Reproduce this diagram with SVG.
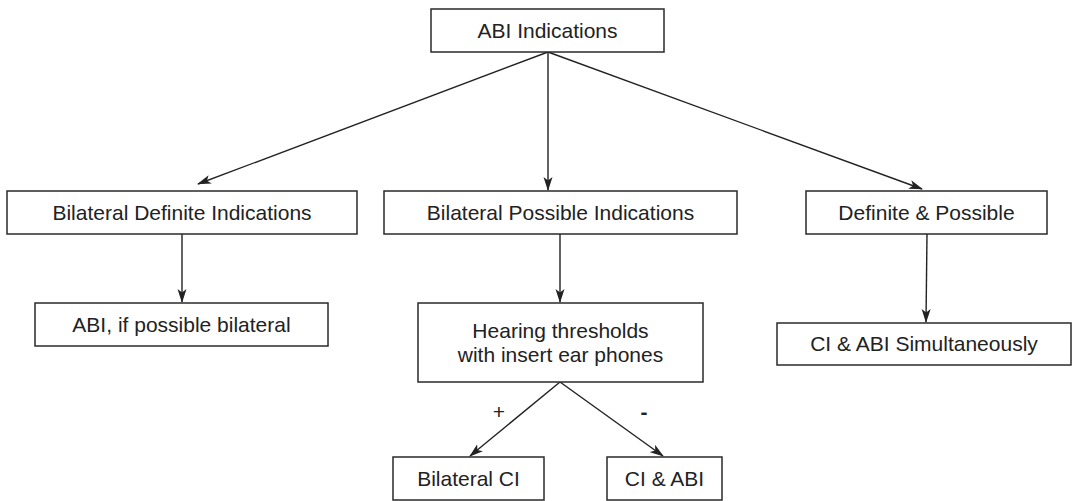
<svg xmlns="http://www.w3.org/2000/svg" width="1073" height="501" viewBox="0 0 1073 501">
<style>
.box{fill:#fff;stroke:#2a2a2a;stroke-width:1.5}
.t{font-family:"Liberation Sans",Arial,sans-serif;font-size:21px;fill:#222;text-anchor:middle}
.c{stroke:#222;stroke-width:1.4;fill:none;marker-end:url(#ah)}
</style>
<defs>
<marker id="ah" markerWidth="14" markerHeight="10" refX="13" refY="5" orient="auto" markerUnits="userSpaceOnUse">
<path d="M0,0.5 L14,5 L0,9.5 L3.5,5 z" fill="#222"/>
</marker>
</defs>
<rect width="1073" height="501" fill="#fff"/>
<g id="connectors">
<line class="c" x1="548" y1="52" x2="198" y2="184"/>
<line class="c" x1="548" y1="52" x2="548" y2="190"/>
<line class="c" x1="548" y1="52" x2="922" y2="189"/>
<line class="c" x1="182" y1="234" x2="182" y2="302"/>
<line class="c" x1="560" y1="234" x2="560" y2="302"/>
<line class="c" x1="927" y1="234" x2="926" y2="322"/>
<line class="c" x1="560" y1="382" x2="470" y2="456"/>
<line class="c" x1="560" y1="382" x2="663" y2="456"/>
<text class="t" x="499" y="419">+</text>
<text class="t" x="644" y="419" style="font-weight:bold">-</text>
</g>
<g id="abi-indications">
<rect class="box" x="431" y="9" width="233" height="43"/>
<text class="t" x="547.5" y="38">ABI Indications</text>
</g>
<g id="bilateral-definite">
<rect class="box" x="7" y="191" width="350" height="43"/>
<text class="t" x="182" y="219.5">Bilateral Definite Indications</text>
</g>
<g id="bilateral-possible">
<rect class="box" x="384" y="191" width="353" height="43"/>
<text class="t" x="560.5" y="219.5">Bilateral Possible Indications</text>
</g>
<g id="definite-possible">
<rect class="box" x="806" y="191" width="241" height="43"/>
<text class="t" x="926.5" y="219.5">Definite &amp; Possible</text>
</g>
<g id="abi-bilateral">
<rect class="box" x="35" y="303" width="293" height="43"/>
<text class="t" x="181.5" y="331.5">ABI, if possible bilateral</text>
</g>
<g id="hearing">
<rect class="box" x="418" y="303" width="285" height="79"/>
<text class="t" x="560.5" y="338">Hearing thresholds</text>
<text class="t" x="560.5" y="362">with insert ear phones</text>
</g>
<g id="ci-abi-sim">
<rect class="box" x="777" y="323" width="294" height="42"/>
<text class="t" x="924" y="351">CI &amp; ABI Simultaneously</text>
</g>
<g id="bilateral-ci">
<rect class="box" x="393" y="457" width="151" height="43"/>
<text class="t" x="468.5" y="485.5">Bilateral CI</text>
</g>
<g id="ci-abi">
<rect class="box" x="607" y="457" width="115" height="43"/>
<text class="t" x="664.5" y="485.5">CI &amp; ABI</text>
</g>
</svg>
